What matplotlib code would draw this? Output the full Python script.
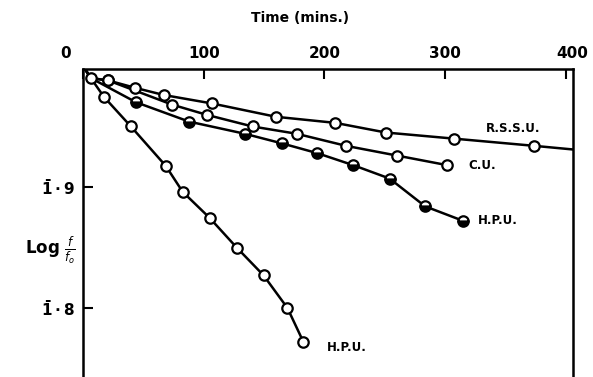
"""
Log f/f0 against time for four preparations
"""

import matplotlib.pyplot as plt
from matplotlib.transforms import ScaledTranslation

plt.rcParams["font.family"] = ["DejaVu Sans"]
plt.rcParams["mathtext.fontset"] = "dejavusans"

# start point shared by all curves; lines run in from the origin
rssu_time = [0, 6.5, 21, 43, 67, 107, 160, 209, 251, 307, 374, 406]
rssu_log = [0, -0.010, -0.012, -0.018, -0.024, -0.031, -0.042, -0.047, -0.055, -0.060, -0.066, -0.069]

cu_time = [0, 6.5, 21, 74, 103, 140.5, 177, 218, 260, 302]
cu_log = [0, -0.010, -0.012, -0.032, -0.0405, -0.050, -0.056, -0.066, -0.074, -0.082]

hpu_a_time = [0, 6.5, 44, 88, 134, 165, 194, 224, 254, 283.5, 315]
hpu_a_log = [0, -0.010, -0.030, -0.046, -0.056, -0.064, -0.072, -0.082, -0.093, -0.116, -0.128]

hpu_b_time = [0, 6.5, 17.4, 39.7, 68.6, 82.6, 105, 127.3, 149.6, 169.4, 182.6]
hpu_b_log = [0, -0.010, -0.0256, -0.050, -0.0826, -0.104, -0.1256, -0.150, -0.173, -0.200, -0.228]

x_ticks = [0, 100, 200, 300, 400]
y_ticks = [-0.1, -0.2]
y_tick_labels = [r"$\mathbf{\bar{1}\cdot 9}$", r"$\mathbf{\bar{1}\cdot 8}$"]

fig = plt.figure(figsize=(5.93, 3.77), dpi=100)
ax = fig.add_axes([83 / 593, 0, 490 / 593, 308 / 377])

open_style = dict(color="black", lw=1.8, marker="o", ms=7.5, mew=1.6,
                  mfc="white", mec="black")

ax.plot(hpu_a_time, hpu_a_log, color="black", lw=1.8, marker="o", ms=7.5, mew=1.6,
        mec="black", mfc="black", mfcalt="white", fillstyle="bottom",
        markevery=list(range(2, len(hpu_a_time))))
ax.plot(hpu_b_time, hpu_b_log, markevery=list(range(2, len(hpu_b_time))), **open_style)
ax.plot(cu_time, cu_log, markevery=list(range(2, len(cu_time))), **open_style)
ax.plot(rssu_time, rssu_log, markevery=list(range(1, len(rssu_time) - 1)), **open_style)

lab = dict(fontsize=8.5, fontweight="bold", va="center", ha="left")
ax.text(334, -0.052, "R.S.S.U.", **lab)
ax.text(319, -0.082, "C.U.", **lab)
ax.text(327, -0.128, "H.P.U.", **lab)
ax.text(202, -0.233, "H.P.U.", **lab)

ax.set_xlim(0, 406)
ax.set_ylim(-0.257, -0.0025)
ax.xaxis.tick_top()
ax.set_xticks(x_ticks)
ax.set_xticklabels([str(t) for t in x_ticks], fontsize=11, fontweight="bold")
ax.set_yticks(y_ticks)
ax.set_yticklabels(y_tick_labels, fontsize=11)
ax.tick_params(direction="in", length=7, width=1.5, pad=6)
ax.spines["bottom"].set_visible(False)
for side in ["top", "left", "right"]:
    ax.spines[side].set_linewidth(1.8)

# the hand-lettered end labels sit a little outside the frame
xlabels = ax.get_xticklabels()
xlabels[0].set_transform(xlabels[0].get_transform()
                         + ScaledTranslation(-0.17, 0, fig.dpi_scale_trans))
xlabels[-1].set_transform(xlabels[-1].get_transform()
                          + ScaledTranslation(0.06, 0, fig.dpi_scale_trans))

fig.text(300 / 593, 1 - 18 / 377, "Time (mins.)", fontsize=10, fontweight="bold",
         ha="center", va="center")
fig.text(25 / 593, 1 - 250 / 377, r"$\mathbf{Log}\ \frac{f}{f_o}$", fontsize=12,
         ha="left", va="center")

fig.savefig("out.png", dpi=100)
